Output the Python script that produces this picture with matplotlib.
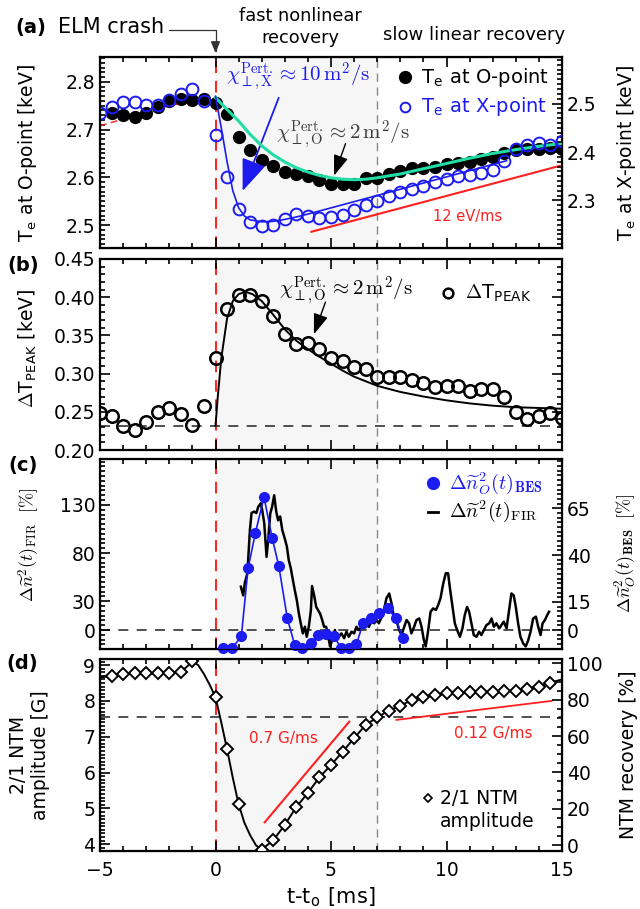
import matplotlib
matplotlib.use('Agg')
import matplotlib.pyplot as plt
from matplotlib.ticker import MultipleLocator, FormatStrFormatter

plt.rcParams['font.family'] = ['DejaVu Sans']
plt.rcParams['mathtext.fontset'] = 'cm'
plt.rcParams['font.size'] = 13.5

BLUE = '#1c1cf0'
RED = '#ff2020'
GREEN = '#22dea6'

# ---- panel (a): Te at O-point (left axis) and X-point (right axis) ----
t_o = [-4.5, -4.0, -3.5, -3.0, -2.5, -2.0, -1.5, -1.0, -0.5, 0.0, 0.5, 1.0, 1.5, 2.0,
       2.5, 3.0, 3.5, 4.0, 4.5, 5.0, 5.5, 6.0, 6.5, 7.0, 7.5, 8.0, 8.5, 9.0, 9.5, 10.0,
       10.5, 11.0, 11.5, 12.0, 12.5, 13.0, 13.5, 14.0, 14.5, 15.0]
te_o = [2.734, 2.730, 2.726, 2.734, 2.748, 2.760, 2.764, 2.762, 2.764, 2.756, 2.732, 2.684,
        2.657, 2.636, 2.624, 2.612, 2.608, 2.603, 2.594, 2.587, 2.585, 2.587, 2.598, 2.598,
        2.607, 2.614, 2.619, 2.620, 2.622, 2.628, 2.630, 2.632, 2.638, 2.643, 2.651, 2.657,
        2.660, 2.660, 2.661, 2.660]

t_x = [-5.0, -4.5, -4.0, -3.5, -3.0, -2.5, -2.0, -1.5, -1.0, -0.5, 0.0, 0.5, 1.0, 1.5,
       2.0, 2.5, 3.0, 3.5, 4.0, 4.5, 5.0, 5.5, 6.0, 6.5, 7.0, 7.5, 8.0, 8.5, 9.0, 9.5,
       10.0, 10.5, 11.0, 11.5, 12.0, 12.5, 13.0, 13.5, 14.0, 14.5, 15.0]
te_x = [2.480, 2.492, 2.503, 2.503, 2.498, 2.498, 2.508, 2.519, 2.531, 2.506, 2.436, 2.348,
        2.283, 2.255, 2.247, 2.250, 2.262, 2.273, 2.268, 2.264, 2.266, 2.271, 2.280, 2.290,
        2.299, 2.309, 2.317, 2.323, 2.330, 2.339, 2.344, 2.350, 2.353, 2.357, 2.362, 2.381,
        2.407, 2.415, 2.418, 2.414, 2.422]

pre_fit_t = [-5.0, -4.0, -3.0, -2.0, -1.0, -0.4]
pre_fit = [2.708, 2.722, 2.737, 2.750, 2.760, 2.764]

o_fit_t = [0.0, 0.5, 1.0, 1.5, 2.0, 2.5, 3.0, 3.5, 4.0, 4.5, 5.0, 5.5, 6.0, 6.5, 7.0,
           7.5, 8.0, 9.0, 10.0, 11.0, 12.0, 13.0, 14.0, 15.0]
o_fit = [2.767, 2.742, 2.718, 2.690, 2.666, 2.647, 2.632, 2.620, 2.611, 2.604, 2.599,
         2.596, 2.595, 2.596, 2.599, 2.603, 2.607, 2.618, 2.629, 2.640, 2.650, 2.658,
         2.665, 2.671]

x_fit_t = [0.0, 0.25, 0.5, 0.75, 1.0, 1.25, 1.5, 2.0, 2.5, 3.0, 3.5, 4.0, 12.6]
x_fit = [2.515, 2.450, 2.380, 2.320, 2.285, 2.268, 2.260, 2.256, 2.257, 2.261, 2.266,
         2.272, 2.382]

rate_a_t = [4.15, 14.9]
rate_a = [2.486, 2.624]

# ---- panel (b): Delta T_peak ----
t_pk = [-5.0, -4.5, -4.0, -3.5, -3.0, -2.5, -2.0, -1.5, -1.0, -0.5, 0.0, 0.5, 1.0, 1.5,
        2.0, 2.5, 3.0, 3.5, 4.0, 4.5, 5.0, 5.5, 6.0, 6.5, 7.0, 7.5, 8.0, 8.5, 9.0, 9.5,
        10.0, 10.5, 11.0, 11.5, 12.0, 12.5, 13.0, 13.5, 14.0, 14.5, 15.0]
dt_pk = [0.249, 0.244, 0.232, 0.2265, 0.236, 0.250, 0.2548, 0.247, 0.2327, 0.2578, 0.321,
         0.385, 0.4023, 0.4023, 0.395, 0.376, 0.352, 0.339, 0.340, 0.332, 0.321, 0.317,
         0.308, 0.306, 0.296, 0.295, 0.295, 0.292, 0.2875, 0.283, 0.2836, 0.2836, 0.277,
         0.2796, 0.2796, 0.2696, 0.250, 0.2405, 0.244, 0.249, 0.2414]

pk_fit_t = [0.0, 0.1, 0.25, 0.5, 0.75, 1.0, 1.3, 1.6, 2.0, 2.5, 3.0, 3.5, 4.0, 4.5, 5.0,
            5.5, 6.0, 6.5, 7.0, 8.0, 9.0, 10.0, 11.0, 12.0, 13.0, 14.0, 15.0]
pk_fit = [0.232, 0.270, 0.320, 0.372, 0.395, 0.404, 0.407, 0.404, 0.395, 0.377, 0.358,
          0.343, 0.332, 0.322, 0.313, 0.304, 0.296, 0.290, 0.284, 0.276, 0.270, 0.265,
          0.261, 0.258, 0.256, 0.255, 0.254]
pk_base = 0.232

# ---- panel (c): turbulence, FIR (left) and BES (right) ----
t_fir = [1.10, 1.20, 1.27, 1.38, 1.49, 1.56, 1.67, 1.77, 1.85, 1.96, 2.02, 2.11, 2.21, 2.28,
         2.37, 2.45, 2.54, 2.63, 2.71, 2.80, 2.89, 3.00, 3.09, 3.17, 3.26, 3.35, 3.43, 3.52,
         3.61, 3.69, 3.78, 3.87, 3.95, 4.04, 4.13, 4.18, 4.27, 4.36, 4.44, 4.53, 4.62, 4.70,
         4.79, 4.88, 4.96, 5.05, 5.17, 5.25, 5.34, 5.45, 5.57, 5.67, 5.77, 5.89, 6.00, 6.10,
         6.20, 6.32, 6.43, 6.54, 6.64, 6.75, 6.87, 6.97, 7.07,
         7.26, 7.40, 7.52, 7.62, 7.72, 7.83, 7.95, 8.05, 8.17, 8.27, 8.38, 8.48, 8.60, 8.70,
         8.82, 8.92, 9.02, 9.10, 9.21, 9.31, 9.42, 9.54, 9.64, 9.74, 9.86, 9.97, 10.07,
         10.14, 10.26, 10.36, 10.46, 10.58, 10.69, 10.79, 10.89, 10.98, 11.08, 11.18, 11.30,
         11.41, 11.51, 11.62, 11.73, 11.85, 11.95, 12.05, 12.16, 12.28, 12.38, 12.48, 12.60,
         12.71, 12.81, 12.91, 13.00, 13.10, 13.20, 13.32, 13.43, 13.54, 13.64, 13.75, 13.87,
         13.97, 14.07, 14.16, 14.26, 14.36, 14.44]
fir = [45, 36, 49, 59, 104, 121.6, 123, 121.6, 128, 131.7, 124.8, 111, 76, 93.6, 121, 128,
       140, 123, 114, 118, 104, 95, 86.7, 72.8, 64, 52, 41.6, 31, 17, 7, -3.5, 3.5, -7, 3.4,
       20.8, 45.7, 36, 24, 20.8, 17, 10.4, 3.4, 3.4, -7, -17, -10.4, 0, -10, -7, -3.5, -8.5,
       -1.7, -7, -1.7, -3.5, 3.4, 0, 3.4, 1.7, 7, 3.4, 8.7, 7, 10.4, 7,
       17.3, 33, 38, 27.7, 13.9, 10.4, 0, -5.2, 3.4, 10.4, 7, -3.5, 3.4, 10.4, 12, 3.4,
       -10.4, -17, 0, 19, 22.5, 20.8, 26, 33, 48.5, 59, 59, 45, 24, 7, 0, -7, 1.7, 15.6,
       24, 19, 7, -5.2, -7, -1.7, -5.2, 0, 5.2, 7, 12, 3.4, 7, 1.7, 5.2, 8.7, 1.7, 20.8,
       38, 36, 24, 7, -7, -13.9, -17, -10.4, -1.7, 12, 13.9, 3.4, -5.2, 7, 10.4, 15.6, 19]

t_bes = [0.33, 0.73, 1.12, 1.41, 1.73, 2.10, 2.45, 2.74, 3.11, 3.43, 3.76, 4.13, 4.44,
         4.78, 5.12, 5.45, 5.80, 6.10, 6.39, 6.75, 7.09, 7.47, 7.80, 8.10]
bes = [-9.6, -9.6, -3.2, 33, 52, 71, 49.3, 34.2, 6.2, -8, -9.8, -7.1, -2.7, -2.3, -3.2,
       -9.8, -9.6, -7.5, 3.6, 6.5, 9.3, 11.6, 6.2, -4.4]

# ---- panel (d): 2/1 NTM amplitude ----
t_ntm = [-4.5, -4.0, -3.5, -3.0, -2.5, -2.0, -1.5, -1.0, 0.0, 0.5, 1.0, 2.0, 2.5, 3.0,
         3.5, 4.0, 4.5, 5.0, 5.5, 6.0, 6.5, 7.0, 7.5, 8.0, 8.5, 9.0, 9.5, 10.0, 10.5,
         11.0, 11.5, 12.0, 12.5, 13.0, 13.5, 14.0, 14.5]
ntm = [8.69, 8.74, 8.77, 8.77, 8.77, 8.78, 8.81, 9.12, 8.10, 6.65, 5.12, 3.85, 4.11, 4.54,
       5.04, 5.43, 5.87, 6.21, 6.58, 6.96, 7.33, 7.54, 7.73, 7.86, 8.03, 8.12, 8.16, 8.21,
       8.22, 8.26, 8.26, 8.26, 8.28, 8.28, 8.33, 8.40, 8.51]

ntm_line_t = [-5.0, -4.5, -4.0, -3.5, -3.0, -2.5, -2.0, -1.5, -1.25, -1.0, -0.75, -0.5,
              -0.25, 0.0, 0.25, 0.5, 0.75, 1.0, 1.25, 1.5, 1.75, 2.0, 2.5, 3.0, 3.5, 4.0,
              4.5, 5.0, 5.5, 6.0, 6.5, 7.0, 7.5, 8.0, 8.5, 9.0, 9.5, 10.0, 10.5, 11.0,
              11.5, 12.0, 12.5, 13.0, 13.5, 14.0, 14.5, 15.0]
ntm_line = [8.66, 8.69, 8.74, 8.77, 8.77, 8.77, 8.78, 8.81, 8.95, 9.10, 9.0, 8.75, 8.45,
            8.10, 7.40, 6.65, 5.85, 5.12, 4.60, 4.25, 3.97, 3.85, 4.11, 4.54, 5.04, 5.43,
            5.87, 6.21, 6.58, 6.96, 7.33, 7.54, 7.73, 7.86, 8.03, 8.12, 8.16, 8.21, 8.22,
            8.26, 8.26, 8.26, 8.28, 8.28, 8.33, 8.40, 8.51, 8.60]
ntm_base = 7.55

rate_fast_t = [2.13, 5.79]
rate_fast = [4.61, 7.42]
rate_slow_t = [7.83, 14.55]
rate_slow = [7.47, 8.00]

fig = plt.figure(figsize=(6.4, 9.09), dpi=100)
L, W = 100 / 640, 462 / 640
ax_a = fig.add_axes([L, 1 - 248 / 909, W, 191 / 909])
ax_b = fig.add_axes([L, 1 - 450 / 909, W, 191 / 909])
ax_c = fig.add_axes([L, 1 - 649 / 909, W, 190 / 909])
ax_d = fig.add_axes([L, 1 - 851 / 909, W, 192 / 909])
ax_a2 = ax_a.twinx()
ax_c2 = ax_c.twinx()
ax_d2 = ax_d.twinx()


def style(ax, mirror_right):
    ax.set_xlim(-5, 15)
    ax.xaxis.set_major_locator(MultipleLocator(5))
    ax.xaxis.set_minor_locator(MultipleLocator(1))
    ax.tick_params(which='both', direction='in', top=True, right=mirror_right, width=1.2)
    ax.tick_params(which='major', length=7)
    ax.tick_params(which='minor', length=3.5)
    ax.tick_params(axis='x', pad=7)
    for s in ax.spines.values():
        s.set_linewidth(1.6)
    ax.axvspan(0, 7, color='#f6f6f6', zorder=0)
    ax.axvline(0, color=RED, ls=(0, (6, 4)), lw=1.4, zorder=1)
    ax.axvline(7, color='#8a8a8a', ls=(0, (6, 4)), lw=1.0, zorder=1)


def style_twin(ax):
    ax.tick_params(which='both', direction='in', right=True, width=1.2)
    ax.tick_params(which='major', length=7)
    ax.tick_params(which='minor', length=3.5)


for ax, mir in [(ax_a, False), (ax_b, True), (ax_c, False), (ax_d, False)]:
    style(ax, mir)
for ax in [ax_a2, ax_c2, ax_d2]:
    style_twin(ax)
for ax in [ax_a, ax_b, ax_c]:
    ax.tick_params(labelbottom=False)

chi_x = r'$\chi_{\perp,\mathrm{X}}^{\mathrm{Pert.}}\approx10\,\mathrm{m}^2/\mathrm{s}$'
chi_o = r'$\chi_{\perp,\mathrm{O}}^{\mathrm{Pert.}}\approx2\,\mathrm{m}^2/\mathrm{s}$'
head = '-|>,head_length=0.7,head_width=0.25'

# (a)
ax_a.set_ylim(2.452, 2.852)
ax_a2.set_ylim(2.202, 2.596)
ax_a.yaxis.set_major_locator(MultipleLocator(0.1))
ax_a.yaxis.set_minor_locator(MultipleLocator(0.01))
ax_a.yaxis.set_major_formatter(FormatStrFormatter('%.1f'))
ax_a2.yaxis.set_major_locator(MultipleLocator(0.1))
ax_a2.yaxis.set_minor_locator(MultipleLocator(0.01))
ax_a2.yaxis.set_major_formatter(FormatStrFormatter('%.1f'))
ax_a.plot(pre_fit_t, pre_fit, color=RED, ls=(0, (5, 3)), lw=1.0, zorder=2)
ax_a.plot(t_o, te_o, 'o', color='black', ms=8.5, zorder=3)
ax_a.plot(o_fit_t, o_fit, color=GREEN, lw=2.2, zorder=4)
ax_a.plot(rate_a_t, rate_a, color=RED, lw=1.5, zorder=3)
ax_a2.plot(t_x, te_x, 'o', mfc='none', mec=BLUE, mew=1.4, ms=8.5)
ax_a2.plot(x_fit_t, x_fit, color=BLUE, lw=1.2)
ax_a.text(10.9, 2.518, '12 eV/ms', color=RED, fontsize=10.5, ha='center', va='center')
ax_a.text(0.45, 2.812, chi_x, color=BLUE, fontsize=15, ha='left', va='center')
ax_a.text(2.6, 2.69, chi_o, color='#3c3c3c', fontsize=15, ha='left', va='center')
ax_a.annotate('', xy=(1.13, 2.566), xytext=(2.78, 2.772),
              arrowprops=dict(arrowstyle='-|>,head_length=0.9,head_width=0.35',
                              color=BLUE, lw=1.3, mutation_scale=22))
ax_a.annotate('', xy=(5.09, 2.598), xytext=(5.67, 2.676),
              arrowprops=dict(arrowstyle=head, color='black', lw=1.0, mutation_scale=18))
ax_a.plot([8.2], [2.81], 'o', color='black', ms=8.5)
ax_a.text(8.9, 2.81, r'T$_\mathregular{e}$ at O-point', fontsize=14, ha='left', va='center')
ax_a.plot([8.2], [2.748], 'o', mfc='none', mec=BLUE, mew=1.4, ms=7)
ax_a.text(8.9, 2.748, r'T$_\mathregular{e}$ at X-point', color=BLUE, fontsize=14,
          ha='left', va='center')

# (b)
ax_b.set_ylim(0.20, 0.45)
ax_b.yaxis.set_major_locator(MultipleLocator(0.05))
ax_b.yaxis.set_minor_locator(MultipleLocator(0.01))
ax_b.yaxis.set_major_formatter(FormatStrFormatter('%.2f'))
ax_b.axhline(pk_base, color='#333333', ls=(0, (6, 5)), lw=1.2, zorder=1)
ax_b.plot(pk_fit_t, pk_fit, color='black', lw=1.4, zorder=2)
ax_b.plot(t_pk, dt_pk, 'o', mfc='none', mec='black', mew=1.8, ms=9, zorder=3)
ax_b.text(2.75, 0.409, chi_o, color='black', fontsize=15, ha='left', va='center')
ax_b.annotate('', xy=(4.22, 0.348), xytext=(4.8, 0.397),
              arrowprops=dict(arrowstyle=head, color='black', lw=1.0, mutation_scale=18))
ax_b.plot([10.06], [0.406], 'o', mfc='none', mec='black', mew=1.8, ms=7)
ax_b.text(10.8, 0.405, r'$\Delta$T$_\mathregular{PEAK}$', fontsize=14, ha='left', va='center')

# (c)
ax_c.set_ylim(-19.7, 177.7)
ax_c2.set_ylim(-10.1, 91.3)
ax_c.set_yticks([0, 30, 80, 130])
ax_c.yaxis.set_minor_locator(MultipleLocator(5))
ax_c2.set_yticks([0, 15, 40, 65])
ax_c2.yaxis.set_minor_locator(MultipleLocator(2.5))
ax_c.axhline(0, color='#333333', ls=(0, (6, 5)), lw=1.2, zorder=1)
ax_c.plot(t_fir, fir, color='black', lw=1.8, zorder=2)
ax_c2.plot(t_bes, bes, '-o', color=BLUE, lw=1.2, ms=7, clip_on=False)
ax_c.plot([9.41], [153], 'o', color=BLUE, ms=8.5)
ax_c.text(10.1, 153, r'$\Delta\widetilde{n}_O^2(t)_{\mathbf{BES}}$', color=BLUE, fontsize=14.5,
          ha='left', va='center')
ax_c.plot([9.2, 9.65], [123, 123], color='black', lw=2)
ax_c.text(10.1, 123, r'$\Delta\widetilde{n}^2(t)_{\mathrm{FIR}}$', color='black', fontsize=14.5,
          ha='left', va='center')

# (d)
ax_d.set_ylim(3.81, 9.17)
ax_d2.set_ylim(-3.3, 102.4)
ax_d.yaxis.set_major_locator(MultipleLocator(1))
ax_d.yaxis.set_minor_locator(MultipleLocator(0.1))
ax_d2.yaxis.set_major_locator(MultipleLocator(20))
ax_d2.yaxis.set_minor_locator(MultipleLocator(5))
ax_d.axhline(ntm_base, color='#333333', ls=(0, (6, 5)), lw=1.2, zorder=1)
ax_d.plot(ntm_line_t, ntm_line, color='black', lw=1.4, zorder=2)
ax_d.plot(t_ntm, ntm, 'D', mfc='white', mec='black', mew=1.4, ms=6, zorder=3)
ax_d.plot(rate_fast_t, rate_fast, color=RED, lw=1.5)
ax_d.plot(rate_slow_t, rate_slow, color=RED, lw=1.3)
ax_d.text(2.93, 6.96, '0.7 G/ms', color=RED, fontsize=11, ha='center', va='center')
ax_d.text(12.02, 7.1, '0.12 G/ms', color=RED, fontsize=11, ha='center', va='center')
ax_d.plot([9.2], [5.29], 'D', mfc='white', mec='black', mew=1.2, ms=4.5)
ax_d.text(9.7, 4.95, '2/1 NTM\namplitude', fontsize=13.5, ha='left', va='center',
          linespacing=1.25)
ax_d.set_xlabel(r't-t$_\mathregular{o}$ [ms]', fontsize=15, labelpad=4)

# y labels
fig.text(28 / 640, 1 - 153 / 909, r'T$_\mathregular{e}$ at O-point [keV]', rotation=90,
         ha='center', va='center')
fig.text(626 / 640, 1 - 153 / 909, r'T$_\mathregular{e}$ at X-point [keV]', rotation=90,
         ha='center', va='center')
fig.text(28 / 640, 1 - 348 / 909, r'$\Delta$T$_\mathregular{PEAK}$ [keV]', rotation=90,
         ha='center', va='center')
fig.text(29 / 640, 1 - 545 / 909, r'$\Delta\widetilde{n}^2(t)_{\mathrm{FIR}}\ \ [\%]$',
         rotation=90, ha='center', va='center', fontsize=13)
fig.text(626 / 640, 1 - 553 / 909, r'$\Delta\widetilde{n}_O^2(t)_{\mathbf{BES}}\ \ [\%]$',
         rotation=90, ha='center', va='center', fontsize=13)
fig.text(29 / 640, 1 - 755 / 909, '2/1 NTM\namplitude [G]', rotation=90, ha='center',
         va='center', linespacing=1.2)
fig.text(628 / 640, 1 - 755 / 909, 'NTM recovery [%]', rotation=90, ha='center', va='center')

# panel letters and header texts
for lab, x, y in [('(a)', 31, 27), ('(b)', 23, 266), ('(c)', 23, 466), ('(d)', 22, 664)]:
    fig.text(x / 640, 1 - y / 909, lab, fontweight='bold', fontsize=14, ha='center',
             va='center')
fig.text(164 / 640, 1 - 27 / 909, 'ELM crash', fontsize=15, ha='right', va='center')
fig.text(300 / 640, 1 - 27 / 909, 'fast nonlinear\nrecovery', fontsize=12.8, ha='center',
         va='center', linespacing=1.3)
fig.text(474 / 640, 1 - 35 / 909, 'slow linear recovery', fontsize=13, ha='center',
         va='center')
ax_a.annotate('', xy=(0, 1.02), xycoords=ax_a.get_xaxis_transform(),
              xytext=(-2.0, 1.14), textcoords=ax_a.get_xaxis_transform(),
              arrowprops=dict(arrowstyle='-|>,head_length=0.5,head_width=0.2',
                              connectionstyle='angle,angleA=0,angleB=90,rad=0',
                              color='#333333', lw=0.9, mutation_scale=14, shrinkA=0,
                              shrinkB=0))

fig.savefig('out.png', dpi=100)
